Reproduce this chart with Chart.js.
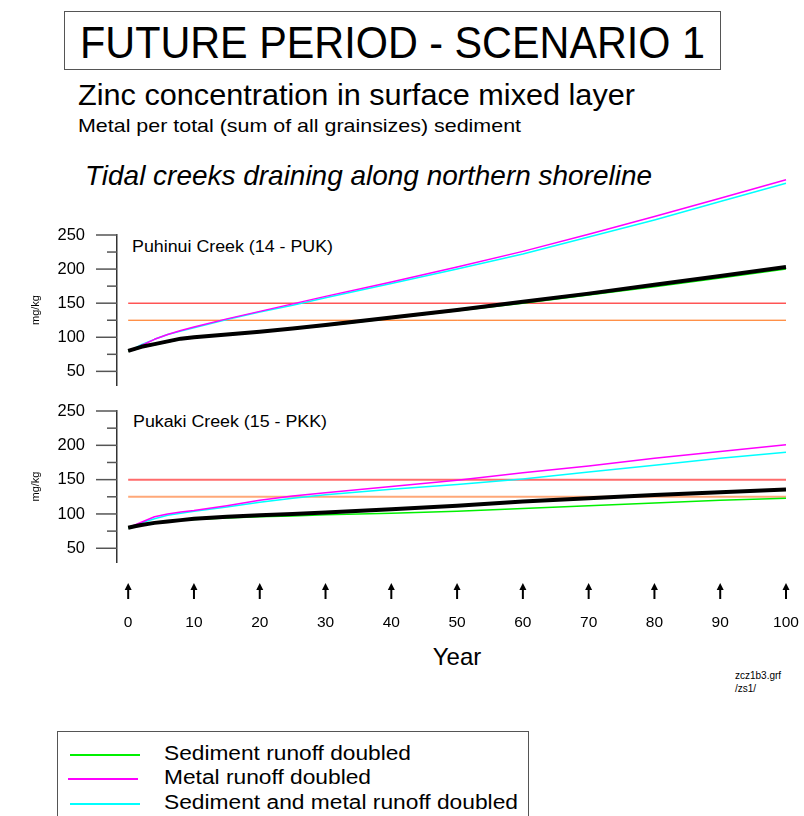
<!DOCTYPE html>
<html>
<head>
<meta charset="utf-8">
<script src="https://cdn.jsdelivr.net/npm/chart.js@4.4.1/dist/chart.umd.min.js"></script>
<style>
  html, body { margin: 0; padding: 0; background: #fff; width: 804px; height: 816px; overflow: hidden;
    font-family: "Liberation Sans", Arial, sans-serif; color: #000; }
  .t { position: absolute; white-space: nowrap; line-height: 1; transform-origin: 0 0; }
  canvas { position: absolute; left: 0; }
  #box { position: absolute; left: 64px; top: 11px; width: 655px; height: 57px; border: 1px solid #555; }
  #legend { position: absolute; left: 57px; top: 731px; width: 470px; height: 120px; border: 1px solid #555; }
  .ll { position: absolute; height: 2px; }
</style>
</head>
<body>
<div id="box"></div>
<div class="t" data-w="625" style="left:80px;top:21px;font-size:44px">FUTURE PERIOD - SCENARIO 1</div>
<div class="t" data-w="557" style="left:78px;top:81px;font-size:29px">Zinc concentration in surface mixed layer</div>
<div class="t" data-w="443" style="left:78px;top:117px;font-size:18.5px">Metal per total (sum of all grainsizes) sediment</div>
<div class="t" data-w="567" style="left:85px;top:162px;font-size:28px;font-style:italic">Tidal creeks draining along northern shoreline</div>
<div class="t" id="panel0" data-w="201" style="left:132px;top:239px;font-size:16px"></div>
<div class="t" id="panel1" data-w="194" style="left:133px;top:414px;font-size:16px"></div>
<div class="t" style="left:407px;width:100px;text-align:center;top:645px;font-size:24px">Year</div>
<div class="t" style="left:735px;top:671px;font-size:10px">zcz1b3.grf</div>
<div class="t" style="left:735px;top:684px;font-size:10px">/zs1/</div>
<div id="legend"></div>

<canvas id="chartTop" width="804" height="225" style="top:170px"></canvas>
<canvas id="chartBot" width="804" height="242" style="top:400px"></canvas>

<script>
const YEARS = [0, 1, 2, 4, 6, 8, 10, 15, 20, 25, 30, 40, 50, 60, 70, 80, 90, 100]

// Puhinui Creek (14 - PUK)
const PUK_SED  = [80, 82, 85, 89, 93, 97, 100, 104, 108, 112, 117, 128, 139, 150, 162, 174, 187, 200]
const PUK_MET  = [80, 83, 88, 97, 104, 110, 115, 127, 138, 149, 160, 181, 203, 226, 251, 277, 304, 331]
const PUK_BOTH = [80, 84, 89, 97, 104, 109, 114, 126, 137, 147, 158, 179, 200, 222, 247, 272, 299, 326]
const PUK_BASE = [80, 83, 86, 90, 94, 98, 100, 104, 108, 113, 118, 129, 140, 152, 164, 177, 190, 203]

// Pukaki Creek (15 - PKK)
const PKK_SED  = [80, 82, 84, 87, 89, 91, 92, 94, 96, 97, 99, 101, 104, 108, 112, 116, 120, 123]
const PKK_MET  = [80, 84, 88, 96, 100, 103, 105, 112, 120, 126, 131, 140, 149, 160, 170, 181, 191, 201]
const PKK_BOTH = [80, 83, 87, 93, 98, 101, 104, 110, 117, 123, 128, 136, 143, 151, 161, 171, 181, 190]
const PKK_BASE = [80, 82, 84, 87, 89, 91, 93, 96, 98, 100, 102, 107, 112, 118, 123, 127.5, 131.5, 135.5]

const GUIDE_VALUES = [150, 125]
const X_TICKS = [0, 10, 20, 30, 40, 50, 60, 70, 80, 90, 100]
const Y_TICKS = [50, 100, 150, 200, 250]
const Y_MINOR = [75, 125, 175, 225]
const PANEL_NAMES = ['Puhinui Creek (14 - PUK)', 'Pukaki Creek (15 - PKK)']
const SERIES_NAMES = ['Sediment runoff doubled', 'Metal runoff doubled', 'Sediment and metal runoff doubled']

const SERIES_COLORS = ['#00f000', '#ff00ff', '#00ffff']

// panel labels and legend
document.getElementById('panel0').textContent = PANEL_NAMES[0]
document.getElementById('panel1').textContent = PANEL_NAMES[1]

const $legend = document.getElementById('legend')
const legendLines = [[12, 22], [10, 46], [12, 71]]
SERIES_NAMES.forEach((name, i) => {
  const line = document.createElement('div')
  line.className = 'll'
  line.style.left = legendLines[i][0] + 'px'
  line.style.top = legendLines[i][1] + 'px'
  line.style.width = '70px'
  line.style.background = SERIES_COLORS[i]
  $legend.appendChild(line)

  const txt = document.createElement('div')
  txt.className = 't'
  txt.textContent = name
  txt.style.left = '106px'
  txt.style.top = (12 + i * 24.4) + 'px'
  txt.style.fontSize = '19.5px'
  txt.dataset.w = [247, 207, 354][i]
  $legend.appendChild(txt)
})

// stretch header texts to the widths seen in the picture
document.querySelectorAll('[data-w]').forEach(el => {
  const w = el.getBoundingClientRect().width
  el.style.transform = `scaleX(${el.dataset.w / w})`
})

Chart.defaults.font.family = '"Liberation Sans", Arial, sans-serif'
Chart.defaults.color = '#000'

const pts = vals => vals.map((v, i) => ({ x: YEARS[i], y: v }))
const guide = v => [{ x: 0, y: v }, { x: 100, y: v }]

const tickMarks = {
  id: 'tickMarks',
  afterDraw(chart, args, opts) {
    const { ctx, chartArea: a } = chart
    const y = chart.scales.y
    const x = chart.scales.x
    ctx.save()
    ctx.strokeStyle = '#555'
    ctx.lineWidth = 1.5
    Y_TICKS.concat(Y_MINOR).forEach(v => {
      const py = y.getPixelForValue(v)
      const len = Y_TICKS.includes(v) ? 21 : 10
      ctx.beginPath()
      ctx.moveTo(a.left, py)
      ctx.lineTo(a.left - len, py)
      ctx.stroke()
    })
    if (opts.arrows) {
      ctx.strokeStyle = '#000'
      ctx.fillStyle = '#000'
      ctx.lineWidth = 2
      X_TICKS.forEach(v => {
        const px = x.getPixelForValue(v)
        ctx.beginPath()
        ctx.moveTo(px, a.bottom + 26)
        ctx.lineTo(px, a.bottom + 37)
        ctx.stroke()
        ctx.beginPath()
        ctx.moveTo(px, a.bottom + 21)
        ctx.lineTo(px - 3.5, a.bottom + 28)
        ctx.lineTo(px + 3.5, a.bottom + 28)
        ctx.closePath()
        ctx.fill()
      })
    }
    ctx.restore()
  }
}

const criarPainel = (id, s, guideColors, guideWidth, pad, showX) => {
  new Chart(document.getElementById(id), {
    type: 'line',
    data: {
      datasets: [
        { data: pts(s.base), borderColor: '#000', borderWidth: 4, clip: false },
        { data: pts(s.sed), borderColor: SERIES_COLORS[0], borderWidth: 1.5, clip: false },
        { data: pts(s.met), borderColor: SERIES_COLORS[1], borderWidth: 1.5, clip: false },
        { data: pts(s.both), borderColor: SERIES_COLORS[2], borderWidth: 1.5, clip: false },
        { data: guide(GUIDE_VALUES[0]), borderColor: guideColors[0], borderWidth: guideWidth, clip: false },
        { data: guide(GUIDE_VALUES[1]), borderColor: guideColors[1], borderWidth: guideWidth, clip: false }
      ]
    },
    options: {
      responsive: false,
      animation: false,
      devicePixelRatio: 1,
      layout: { padding: { top: pad[0], bottom: pad[1], left: 0, right: 18 } },
      elements: { point: { radius: 0 }, line: { tension: 0, borderJoinStyle: 'round' } },
      plugins: { legend: { display: false }, tooltip: { enabled: false }, tickMarks: { arrows: showX } },
      scales: {
        x: {
          type: 'linear', min: -1.7, max: 100, display: showX,
          afterBuildTicks: sc => { sc.ticks = X_TICKS.map(v => ({ value: v })) },
          afterFit: sc => {
            if (showX) sc.height = 80
            sc.paddingLeft = 0
            sc.paddingRight = 0
          },
          grid: { display: false, drawTicks: false },
          border: { display: false },
          ticks: { padding: 51, font: { size: 15.5 }, maxRotation: 0, autoSkip: false }
        },
        y: {
          type: 'linear', min: 30, max: 250,
          afterBuildTicks: sc => { sc.ticks = Y_TICKS.map(v => ({ value: v })) },
          afterFit: sc => {
            sc.width = 117
            sc.paddingTop = 0
            sc.paddingBottom = 0
          },
          grid: { display: false, drawTicks: false },
          border: { display: true, color: '#333', width: 1.5 },
          ticks: { padding: 32, font: { size: 16.5 } },
          title: { display: true, text: 'mg/kg', font: { size: 11 }, padding: { top: 29, bottom: 0 } }
        }
      }
    },
    plugins: [tickMarks]
  })
}

criarPainel('chartTop', { sed: PUK_SED, met: PUK_MET, both: PUK_BOTH, base: PUK_BASE },
  ['#ff0000', '#ff6600'], 1, [65, 10], false)
criarPainel('chartBot', { sed: PKK_SED, met: PKK_MET, both: PKK_BOTH, base: PKK_BASE },
  ['#ff6b6b', '#ffa878'], 2, [11, 0], true)
</script>
</body>
</html>
